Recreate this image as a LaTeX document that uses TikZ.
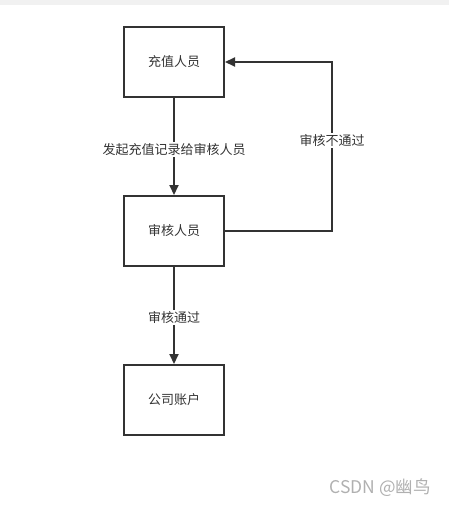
\documentclass[tikz,border=0pt]{standalone}
\usepackage{fontspec}
\setmainfont{Noto Sans CJK SC}
\usetikzlibrary{arrows.meta}
\definecolor{ink}{HTML}{333333}
\definecolor{band}{HTML}{F1F1F1}
\definecolor{wm}{HTML}{B0B0B0}
\begin{document}
\begin{tikzpicture}[x=1pt,y=-1pt,
  box/.style={draw=ink,line width=2pt,minimum width=100pt,minimum height=70pt,inner sep=0pt,text=ink,font=\fontsize{13}{15}\selectfont},
  conn/.style={draw=ink,line width=2pt},
  arr/.style={conn,-{Triangle[length=10pt,width=9pt]}},
  lbl/.style={fill=white,text=ink,inner sep=1.5pt,font=\fontsize{13}{15}\selectfont}]
\useasboundingbox (0,0) rectangle (449,506);
\fill[band] (0,0) rectangle (449,5);
\node[box] (top) at (174,62) {充值人员};
\node[box] (mid) at (174,231) {审核人员};
\node[box] (bot) at (174,400) {公司账户};
\coordinate (c1) at (332,231);
\coordinate (c2) at (332,62);
\draw[arr] (top.south) -- node[lbl,pos=0.53]{发起充值记录给审核人员} (mid.north);
\draw[arr] (mid.south) -- node[lbl,pos=0.52]{审核通过} (bot.north);
\draw[arr] (mid.east) -- (c1) -- node[lbl,pos=0.534]{审核不通过} (c2) -- (top.east);
\node[text=wm,font=\fontsize{17.5}{19}\selectfont,inner sep=0pt] (wmark) at (380,488) {CSDN @幽鸟};
\end{tikzpicture}
\end{document}
